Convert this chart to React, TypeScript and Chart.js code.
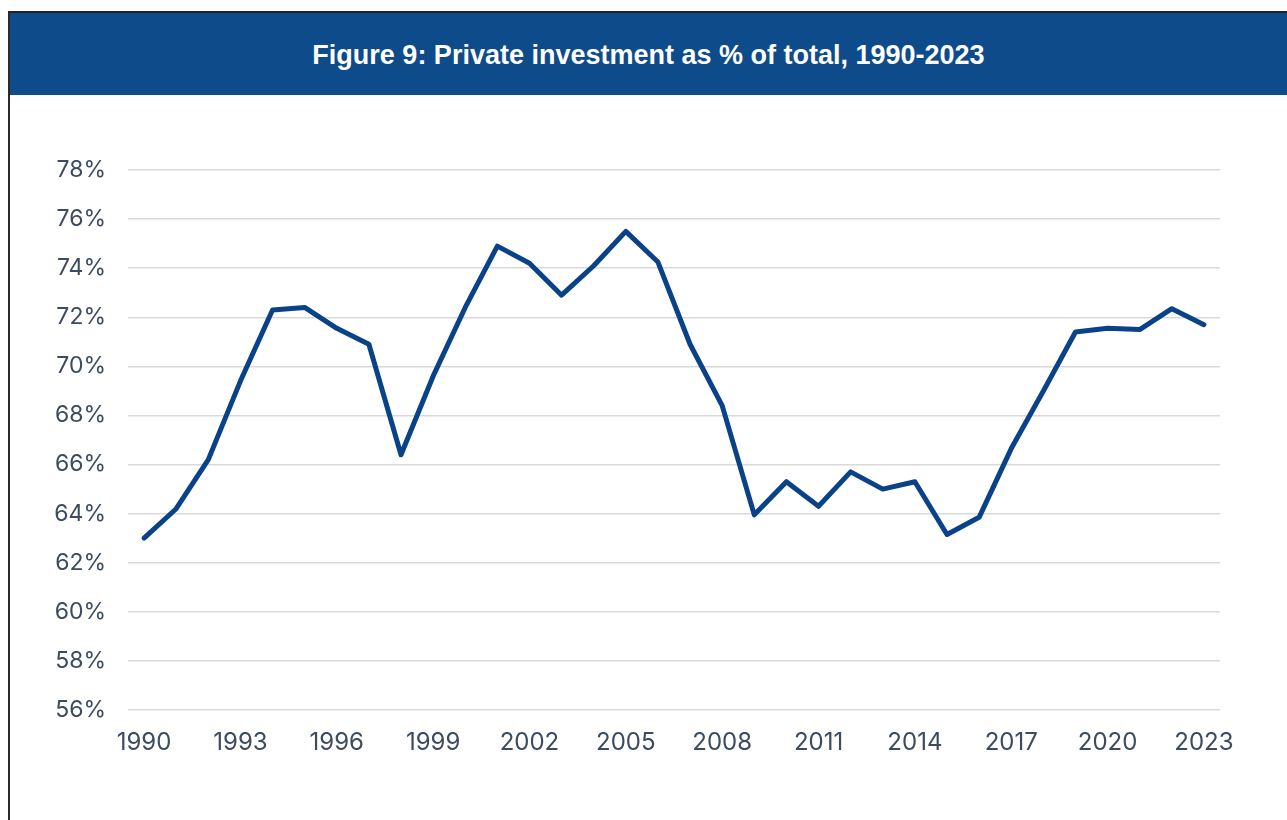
import React, { useEffect, useRef } from "react";
import { Chart, registerables } from "chart.js";

Chart.register(...registerables);

const TITLE = "Figure 9: Private investment as % of total, 1990-2023";

const years: string[] = [
  "1990", "1991", "1992", "1993", "1994", "1995", "1996", "1997", "1998", "1999",
  "2000", "2001", "2002", "2003", "2004", "2005", "2006", "2007", "2008", "2009",
  "2010", "2011", "2012", "2013", "2014", "2015", "2016", "2017", "2018", "2019",
  "2020", "2021", "2022", "2023",
];

const privateShare: number[] = [
  63.0, 64.2, 66.2, 69.4, 72.3, 72.4, 71.55, 70.9, 66.4, 69.6,
  72.4, 74.9, 74.2, 72.9, 74.1, 75.5, 74.25, 70.9, 68.4, 63.95,
  65.3, 64.3, 65.7, 65.0, 65.3, 63.15, 63.85, 66.65, 69.0, 71.4,
  71.55, 71.5, 72.35, 71.7,
];

const yMin = 56;
const yMax = 78;
const yStep = 2;

const LINE_COLOR = "#0a428a";
const TICK_COLOR = "#3c4b5f";
const GRID_COLOR = "#d9d9d9";
const HEADER_BG = "#0e4b8a";

export default function App() {
  const canvasRef = useRef<HTMLCanvasElement | null>(null);

  useEffect(() => {
    document.body.style.margin = "0";
    document.body.style.overflow = "hidden";
    const canvas = canvasRef.current;
    if (!canvas) return;
    const chart = new Chart(canvas, {
      type: "line",
      data: {
        labels: years,
        datasets: [
          {
            data: privateShare,
            borderColor: LINE_COLOR,
            borderWidth: 5,
            borderJoinStyle: "round",
            borderCapStyle: "round",
            pointRadius: 0,
            tension: 0,
            fill: false,
          },
        ],
      },
      options: {
        animation: false,
        responsive: false,
        maintainAspectRatio: false,
        layout: { padding: { top: 75, right: 67, left: 0, bottom: 0 } },
        plugins: {
          legend: { display: false },
          tooltip: { enabled: false },
          title: { display: false },
        },
        scales: {
          x: {
            type: "category",
            offset: true,
            border: { display: false },
            grid: { display: false, drawTicks: false },
            ticks: {
              autoSkip: false,
              maxRotation: 0,
              minRotation: 0,
              padding: 18,
              color: TICK_COLOR,
              font: { family: "Inter", size: 24 },
              callback: (_v: any, i: number) => (i % 3 === 0 ? years[i] : ""),
            },
            afterFit: (scale: any) => {
              scale.height = 110;
            },
          },
          y: {
            min: yMin,
            max: yMax,
            border: { display: false },
            grid: { color: GRID_COLOR, lineWidth: 1.5, drawTicks: false },
            ticks: {
              stepSize: yStep,
              padding: 22,
              color: TICK_COLOR,
              font: { family: "Inter", size: 23 },
              callback: (v: any) => `${v}%`,
            },
            afterFit: (scale: any) => {
              scale.width = 118;
            },
          },
        },
      },
    });
    return () => chart.destroy();
  }, []);

  return (
    <div
      style={{
        position: "absolute",
        left: 8,
        top: 11,
        width: 1279,
        height: 809,
        borderTop: "2px solid #222",
        borderLeft: "2px solid #2a2a2a",
        boxSizing: "border-box",
        background: "#fff",
      }}
    >
      <div
        style={{
          height: 82,
          background: HEADER_BG,
          color: "#fff",
          display: "flex",
          alignItems: "center",
          justifyContent: "center",
          fontFamily: "'Liberation Sans', Arial, sans-serif",
          fontWeight: "bold",
          fontSize: 27,
        }}
      >
        <span style={{ marginLeft: 0, marginTop: 2 }}>{TITLE}</span>
      </div>
      <canvas ref={canvasRef} width={1277} height={725} style={{ display: "block" }} />
    </div>
  );
}
